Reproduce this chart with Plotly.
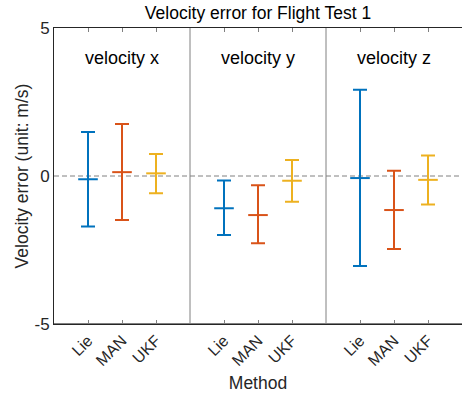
import plotly.graph_objects as go

# Error summary per velocity component and method (m/s)
components = ["velocity x", "velocity y", "velocity z"]
methods = ["Lie", "MAN", "UKF"]
colors = ["#0072BD", "#D95319", "#EDB120"]

center = {
    "Lie": [-0.11, -1.09, -0.07],
    "MAN": [0.13, -1.32, -1.15],
    "UKF": [0.09, -0.16, -0.13],
}
upper = {
    "Lie": [1.49, -0.15, 2.91],
    "MAN": [1.76, -0.31, 0.18],
    "UKF": [0.74, 0.54, 0.69],
}
lower = {
    "Lie": [-1.71, -1.99, -3.04],
    "MAN": [-1.49, -2.27, -2.47],
    "UKF": [-0.58, -0.87, -0.96],
}

y_ticks = [-5, 0, 5]
y_ticktext = ["-5", "0", "5"]
y_range = [-5, 5]
group_size = len(methods) + 1
x_range = [0, group_size * len(components)]

FONT = "Liberation Sans, Arial, Helvetica, sans-serif"
DARK = "#262626"
GRAY = "#808080"

fig = go.Figure()

tickvals, ticktext = [], []
for g, comp in enumerate(components):
    for m, meth in enumerate(methods):
        tickvals.append(g * group_size + m + 1)
        ticktext.append(meth)

for m, meth in enumerate(methods):
    xs = [g * group_size + m + 1 for g in range(len(components))]
    c = center[meth]
    up = [u - v for u, v in zip(upper[meth], c)]
    dn = [v - l for v, l in zip(c, lower[meth])]
    fig.add_trace(go.Scatter(
        x=xs, y=c, mode="markers", name=meth, showlegend=False,
        marker=dict(symbol="line-ew", size=14, color=colors[m],
                    line=dict(color=colors[m], width=2)),
        error_y=dict(type="data", symmetric=False, array=up, arrayminus=dn,
                     color=colors[m], thickness=2, width=7),
    ))

# zero reference line
fig.add_shape(type="line", xref="x", yref="y", x0=x_range[0], x1=x_range[1],
              y0=0, y1=0, line=dict(color=GRAY, width=1, dash="5px,3px"), layer="below")
# group separators
for g in range(1, len(components)):
    xv = g * group_size
    fig.add_shape(type="line", xref="x", yref="y", x0=xv, x1=xv,
                  y0=y_range[0], y1=y_range[1], line=dict(color=GRAY, width=1), layer="below")
# bottom axis line
fig.add_shape(type="line", xref="x", yref="y", x0=x_range[0], x1=x_range[1],
              y0=y_range[0], y1=y_range[0], line=dict(color=GRAY, width=2))

# group labels
for g, comp in enumerate(components):
    fig.add_annotation(x=g * group_size + (group_size) / 2, y=4.0, xref="x", yref="y",
                       text=comp, showarrow=False, font=dict(size=18, color="black"))

fig.update_layout(
    width=462, height=397,
    margin=dict(l=54, r=0, t=28, b=73),
    paper_bgcolor="white", plot_bgcolor="white",
    font=dict(family=FONT, color=DARK),
    title=dict(text="Velocity error for Flight Test 1", x=0.5584, xanchor="center",
               y=1 - 13 / 397, yanchor="middle", font=dict(size=17.5, color="black")),
    xaxis=dict(range=x_range, tickvals=tickvals, ticktext=ticktext, tickangle=-45,
               ticks="inside", ticklen=4, tickcolor=GRAY, tickwidth=1,
               showline=True, linecolor=DARK, linewidth=1, mirror="ticks",
               showgrid=False, zeroline=False, tickfont=dict(size=16, color=DARK),
               title=dict(text="Method", font=dict(size=17.5, color=DARK), standoff=8)),
    yaxis=dict(range=y_range, tickvals=y_ticks, ticktext=y_ticktext, ticks="",
               showline=True, linecolor=DARK, linewidth=1, showgrid=False, zeroline=False,
               tickfont=dict(size=17, color=DARK),
               title=dict(text="Velocity error (unit: m/s)", font=dict(size=17.5, color=DARK),
                          standoff=1)),
)

fig.write_html("out.html")
